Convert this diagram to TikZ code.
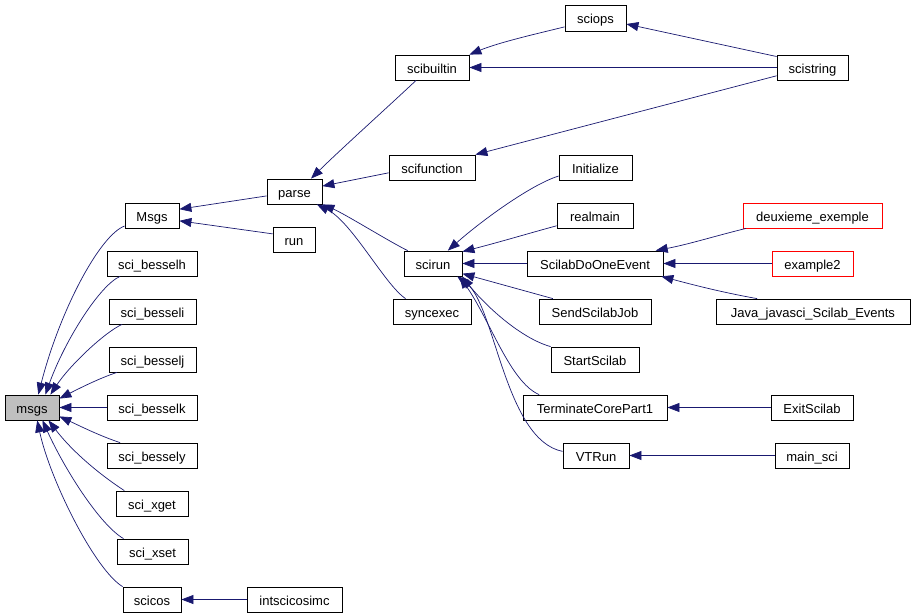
\documentclass[tikz,border=0pt]{standalone}
\usepackage{fontspec}
\setmainfont{Liberation Sans}
\usetikzlibrary{arrows.meta}
\definecolor{edgeblue}{RGB}{25,25,112}
\tikzset{
  box/.style={draw=black, line width=0.8pt, minimum height=25pt, inner sep=1pt, text height=13pt, text depth=1pt, font=\fontsize{13}{15}\selectfont, anchor=center},
  redbox/.style={box, draw=red},
  callee/.style={box, fill=black!25},
  edge/.style={draw=edgeblue, line width=0.7pt, -{Triangle[length=12pt,width=9pt]}},
}
\begin{document}
\begin{tikzpicture}[x=1pt,y=-1pt]
\useasboundingbox (0,0) rectangle (914,615);
% nodes
\node[callee, minimum width=54pt] (msgs) at (32,407.5) {msgs};
\node[box, minimum width=54pt] (Msgs) at (152,215.5) {Msgs};
\node[box, minimum width=90pt] (besselh) at (152,263.5) {sci\_besselh};
\node[box, minimum width=87pt] (besseli) at (152.5,311.5) {sci\_besseli};
\node[box, minimum width=87pt] (besselj) at (152.5,359.5) {sci\_besselj};
\node[box, minimum width=90pt] (besselk) at (152,407.5) {sci\_besselk};
\node[box, minimum width=90pt] (bessely) at (152,455.5) {sci\_bessely};
\node[box, minimum width=72pt] (xget) at (152,503.5) {sci\_xget};
\node[box, minimum width=71pt] (xset) at (152.5,551.5) {sci\_xset};
\node[box, minimum width=58pt] (scicos) at (152,599.5) {scicos};
\node[box, minimum width=95pt] (intscicosimc) at (294.5,599.5) {intscicosimc};
\node[box, minimum width=55pt] (parse) at (294.5,191.5) {parse};
\node[box, minimum width=42pt] (run) at (294,240) {run};
\node[box, minimum width=74pt] (scibuiltin) at (432,67.5) {scibuiltin};
\node[box, minimum width=61pt, minimum height=26pt] (sciops) at (595.5,18) {sciops};
\node[box, minimum width=71pt] (scistring) at (812.5,67.5) {scistring};
\node[box, minimum width=86pt] (scifunction) at (432,167.5) {scifunction};
\node[box, minimum width=58pt] (scirun) at (433,263.5) {scirun};
\node[box, minimum width=78pt] (syncexec) at (432,311.5) {syncexec};
\node[box, minimum width=73pt] (Initialize) at (595.5,167.5) {Initialize};
\node[box, minimum width=76pt] (realmain) at (595,215.5) {realmain};
\node[box, minimum width=136pt] (SDOE) at (595,263.5) {ScilabDoOneEvent};
\node[box, minimum width=112pt] (SendScilabJob) at (595,311.5) {SendScilabJob};
\node[box, minimum width=88pt] (StartScilab) at (595,359.5) {StartScilab};
\node[box, minimum width=144pt] (Terminate) at (595,407.5) {TerminateCorePart1};
\node[box, minimum width=66pt] (VTRun) at (596,455.5) {VTRun};
\node[redbox, minimum width=139pt] (deux) at (812.5,215.5) {deuxieme\_exemple};
\node[redbox, minimum width=81pt] (example2) at (812.5,263.5) {example2};
\node[box, minimum width=194pt] (Java) at (813,311.5) {Java\_javasci\_Scilab\_Events};
\node[box, minimum width=82pt] (ExitScilab) at (812,407.5) {ExitScilab};
\node[box, minimum width=74pt] (mainsci) at (812,455.5) {main\_sci};
% edges into msgs
\draw[edge] (Msgs.201) .. controls (100,235) and (60,310) .. (msgs.64);
\draw[edge] (besselh.202.6) .. controls (100,285) and (65,340) .. (msgs.44);
\draw[edge] (besseli.203) .. controls (105,332) and (70,365) .. (msgs.35);
\draw[edge] (besselj.200) .. controls (100,378) and (80,388) .. (msgs.18);
\draw[edge] (besselk) -- (msgs);
\draw[edge] (bessely.158.7) .. controls (100,436) and (80,426) .. (msgs.-18);
\draw[edge] (xget.155) .. controls (105,478) and (75,455) .. (msgs.-38);
\draw[edge] (xset.156.3) .. controls (100,525) and (65,470) .. (msgs.-51);
\draw[edge] (scicos.north west) .. controls (95,570) and (50,480) .. (msgs.-68);
\draw[edge] (intscicosimc) -- (scicos);
% into Msgs
\draw[edge] (parse.189.3) -- (Msgs.13.5);
\draw[edge] (run.164) -- (Msgs.-11.5);
% into parse
\draw[edge] (scibuiltin.219.8) .. controls (390,105) and (340,150) .. (parse.38.9);
\draw[edge] (scifunction.187.3) -- (parse.11.3);
\draw[edge] (scirun.153.4) .. controls (390,242) and (345,214) .. (parse.south east);
\draw[edge] (syncexec.154.3) .. controls (385,285) and (352,222) .. (parse.-30);
% into scibuiltin, sciops, scifunction
\draw[edge] (sciops.196.4) .. controls (540,33) and (500,42) .. (scibuiltin.north east);
\draw[edge] (scistring) -- (scibuiltin);
\draw[edge] (scistring.163.5) -- (sciops.-11);
\draw[edge] (scistring.193.5) -- (scifunction.north east);
% into scirun
\draw[edge] (Initialize.193) .. controls (530,185) and (480,222) .. (scirun.41.8);
\draw[edge] (realmain.195.5) .. controls (530,233) and (500,242) .. (scirun.22);
\draw[edge] (SDOE) -- (scirun);
\draw[edge] (SendScilabJob.163.8) -- (scirun.-19.9);
\draw[edge] (StartScilab.north west) .. controls (520,338) and (485,305) .. (scirun.-24);
\draw[edge] (Terminate.167.2) .. controls (510,382) and (490,320) .. (scirun.-26);
\draw[edge] (VTRun.173.9) .. controls (505,440) and (495,305) .. (scirun.-28);
% into ScilabDoOneEvent etc.
\draw[edge] (deux.191.3) .. controls (715,236) and (690,244) .. (SDOE.12.4);
\draw[edge] (example2) -- (SDOE);
\draw[edge] (Java.167.4) .. controls (720,292) and (690,284) .. (SDOE.-11.6);
\draw[edge] (ExitScilab) -- (Terminate);
\draw[edge] (mainsci) -- (VTRun);
\end{tikzpicture}
\end{document}
